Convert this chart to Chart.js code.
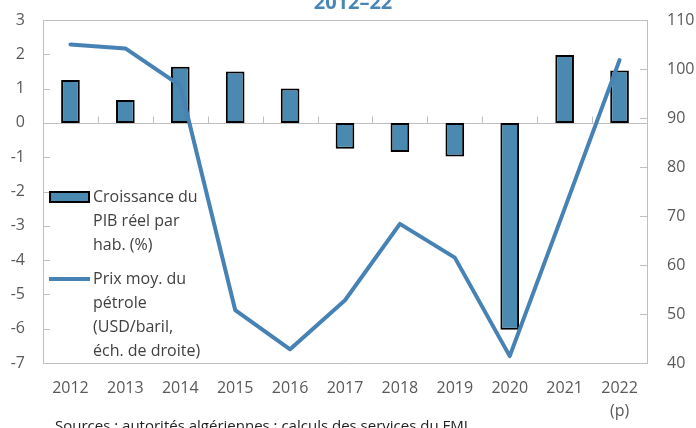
<!DOCTYPE html>
<html>
<head>
<meta charset="utf-8">
<script src="https://cdn.jsdelivr.net/npm/chart.js@4"></script>
<style>
html,body{margin:0;padding:0;background:#fff;}
#wrap{width:696px;height:428px;position:relative;}
</style>
</head>
<body>
<div id="wrap"><canvas id="c" width="696" height="428"></canvas></div>
<script>
const categories = [["2012"],["2013"],["2014"],["2015"],["2016"],["2017"],["2018"],["2019"],["2020"],["2021"],["2022","(p)"]];
const gdpGrowth = [1.25, 0.67, 1.64, 1.5, 1.0, -0.75, -0.85, -0.98, -6.03, 1.98, 1.53];
const oilPrice = [105.0, 104.2, 96.6, 50.8, 42.8, 52.8, 68.4, 61.5, 41.4, 71.5, 101.8];
const leftTicks = [-7,-6,-5,-4,-3,-2,-1,0,1,2,3];
const rightTicks = [40,50,60,70,80,90,100,110];
const titleText = "2012–22";
const sourceText = "Sources : autorités algériennes ; calculs des services du FMI";
const barLabel = ["Croissance du", "PIB réel par", "hab. (%)"];
const lineLabel = ["Prix moy. du", "pétrole", "(USD/baril,", "éch. de droite)"];

const BAR_COLOR = "#4a8ab0";
const LINE_COLOR = "#4682b4";
const FRAME = "#bfbfbf";
const TXT = "#595959";
const FONT = "'Open Sans', 'Noto Sans', sans-serif";

const framePlugin = {
  id: "frame",
  beforeDatasetsDraw(chart) {
    const {ctx, chartArea: a, scales} = chart;
    const y = scales.y, y1 = scales.y1, x = scales.x;
    ctx.save();
    ctx.strokeStyle = FRAME;
    ctx.lineWidth = 1;
    ctx.beginPath();
    ctx.moveTo(a.left, Math.round(a.top) + 0.5); ctx.lineTo(a.right, Math.round(a.top) + 0.5);
    leftTicks.forEach(v => {
      const py = Math.round(y.getPixelForValue(v)) + 0.5;
      ctx.moveTo(a.left, py); ctx.lineTo(a.left + 7, py);
    });
    rightTicks.forEach(v => {
      const py = Math.round(y1.getPixelForValue(v)) + 0.5;
      ctx.moveTo(a.right - 7, py); ctx.lineTo(a.right, py);
    });
    const zy = Math.round(y.getPixelForValue(0)) + 0.5;
    ctx.moveTo(a.left, zy); ctx.lineTo(a.right, zy);
    const n = categories.length;
    for (let i = 1; i < n; i++) {
      const px = Math.round((x.getPixelForValue(i - 1) + x.getPixelForValue(i)) / 2) + 0.5;
      ctx.moveTo(px, zy); ctx.lineTo(px, zy - 7);
    }
    ctx.stroke();
    ctx.restore();
  },
  afterDraw(chart) {
    const {ctx} = chart;
    ctx.save();
    ctx.fillStyle = "#4a86b5";
    ctx.font = "bold 20px " + FONT;
    ctx.textAlign = "center";
    ctx.textBaseline = "alphabetic";
    ctx.fillText(titleText, 353, 9);
    ctx.fillStyle = "#222";
    ctx.font = "15px " + FONT;
    ctx.textAlign = "left";
    ctx.fillText(sourceText, 55, 431);
    ctx.fillStyle = BAR_COLOR;
    ctx.fillRect(50, 192, 39, 10);
    ctx.strokeStyle = "#000";
    ctx.lineWidth = 2;
    ctx.strokeRect(50, 192, 39, 10);
    ctx.strokeStyle = LINE_COLOR;
    ctx.lineWidth = 4;
    ctx.beginPath(); ctx.moveTo(49, 279); ctx.lineTo(90, 279); ctx.stroke();
    ctx.fillStyle = "#404040";
    ctx.font = "16px " + FONT;
    ctx.textBaseline = "middle";
    barLabel.forEach((t, i) => ctx.fillText(t, 93, 197 + i * 24));
    lineLabel.forEach((t, i) => ctx.fillText(t, 93, 279 + i * 24));
    ctx.restore();
  }
};

new Chart(document.getElementById("c"), {
  data: {
    labels: categories,
    datasets: [
      {
        type: "line",
        label: "Prix moy. du pétrole (USD/baril, éch. de droite)",
        data: oilPrice,
        yAxisID: "y1",
        borderColor: LINE_COLOR,
        borderWidth: 4,
        pointRadius: 0,
        tension: 0,
        borderCapStyle: "round",
        borderJoinStyle: "round",
        order: 1
      },
      {
        type: "bar",
        label: "Croissance du PIB réel par hab. (%)",
        data: gdpGrowth,
        yAxisID: "y",
        backgroundColor: BAR_COLOR,
        borderColor: "#000",
        borderWidth: 2,
        borderSkipped: false,
        categoryPercentage: 1,
        barPercentage: 0.34,
        order: 2
      }
    ]
  },
  options: {
    responsive: false,
    animation: false,
    devicePixelRatio: 1,
    layout: {padding: {top: 20, left: 0, right: 0, bottom: 0}},
    plugins: {legend: {display: false}, tooltip: {enabled: false}, title: {display: false}},
    scales: {
      x: {
        type: "category",
        offset: true,
        grid: {display: false, drawTicks: false},
        border: {display: true, color: FRAME},
        ticks: {color: TXT, font: {family: FONT, size: 16, lineHeight: 1.45}, padding: 14, maxRotation: 0, autoSkip: false},
        afterFit: s => { s.height = 65; s.paddingLeft = 0; s.paddingRight = 0; }
      },
      y: {
        position: "left",
        min: -7, max: 3,
        grid: {display: false, drawTicks: false},
        border: {display: true, color: FRAME},
        ticks: {stepSize: 1, color: TXT, font: {family: FONT, size: 16}, padding: 18},
        afterFit: s => { s.width = 43; s.paddingTop = 0; s.paddingBottom = 0; }
      },
      y1: {
        position: "right",
        min: 40, max: 110,
        grid: {display: false, drawTicks: false},
        border: {display: true, color: FRAME},
        ticks: {stepSize: 10, color: TXT, font: {family: FONT, size: 16}, padding: 20},
        afterFit: s => { s.width = 49; s.paddingTop = 0; s.paddingBottom = 0; }
      }
    }
  },
  plugins: [framePlugin]
});
</script>
</body>
</html>
